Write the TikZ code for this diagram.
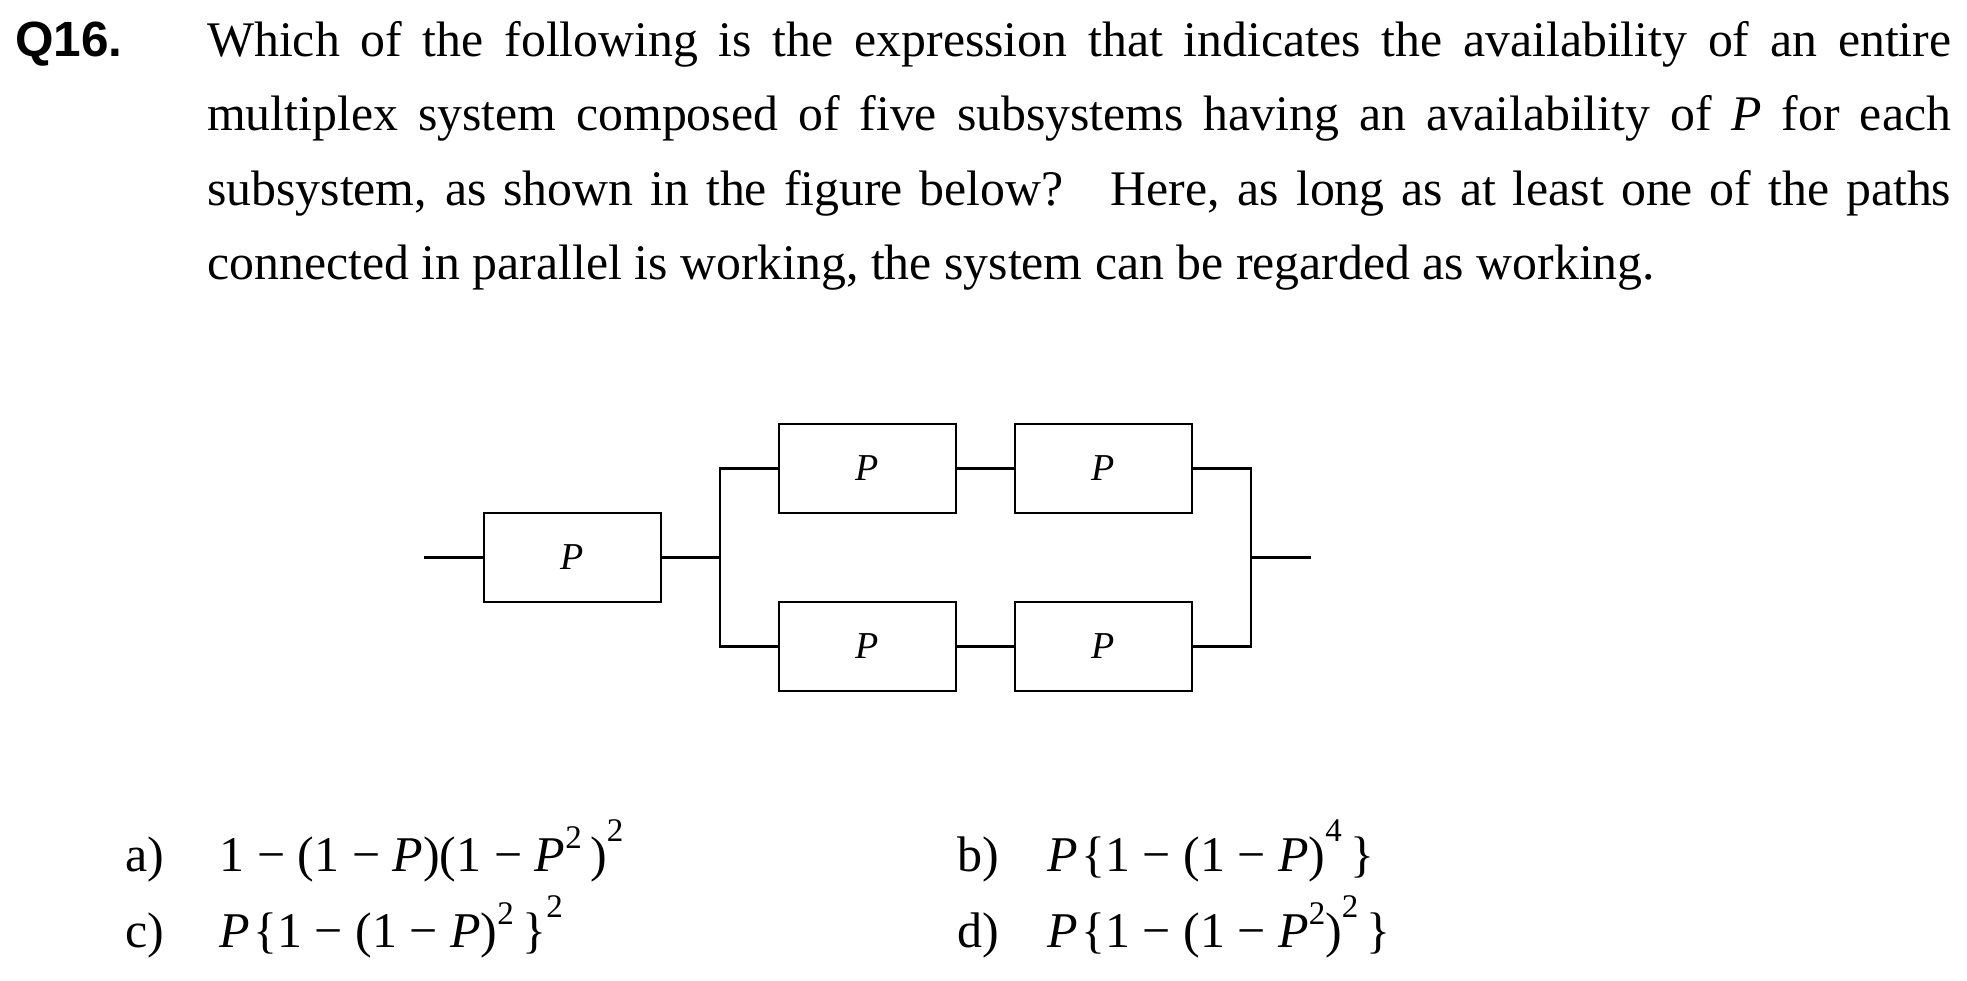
\documentclass[tikz,border=0pt]{standalone}
\usepackage{fontspec}
\setmainfont{Liberation Serif}
\newfontfamily\qfont{Liberation Sans}
\newcommand\suplo[1]{\raisebox{0.46em}{\fontsize{33}{33}\selectfont #1}}
\newcommand\suphi[1]{\raisebox{0.6em}{\fontsize{33}{33}\selectfont #1}}
\begin{document}
\begin{tikzpicture}[x=1pt,y=-1pt,
  box/.style={draw, line width=2.6pt, minimum width=177pt, minimum height=89pt, inner sep=0pt, font=\fontsize{38}{38}\selectfont\itshape},
  wire/.style={line width=2.6pt, line join=miter},
  opt/.style={anchor=base west, inner sep=0pt, font=\fontsize{50}{50}\selectfont}]
\useasboundingbox (0,0) rectangle (1967,980);
\node[anchor=base west, inner sep=0pt, font=\qfont\bfseries\fontsize{49.5}{49.5}\selectfont] (q) at (15,56) {Q16.};
\node[anchor=base west, inner sep=0pt] (txt) at (207,56) {\parbox[t]{1744pt}{\fontsize{49.8}{74.5}\selectfont Which of the following is the expression that indicates the availability of an entire\linebreak multiplex system composed of five subsystems having an availability of \textit{P} for each\linebreak subsystem, as shown in the figure below?\hspace*{0.6em} Here, as long as at least one of the paths\linebreak connected in parallel is working, the system can be regarded as working.}};
% diagram
\node[box] (b1) at (572.5,557.5) {P};
\node[box] (b2) at (867.5,468.5) {P};
\node[box] (b3) at (1103.5,468.5) {P};
\node[box] (b4) at (867.5,646.5) {P};
\node[box] (b5) at (1103.5,646.5) {P};
\coordinate (in) at (424,557.5);
\coordinate (out) at (1311,557.5);
\coordinate (jl) at (720,557.5);
\coordinate (jr) at (1251,557.5);
\draw[wire] (in) -- (b1.west);
\draw[wire] (b1.east) -- (jl);
\draw[wire] (b2.west) -| (jl) |- (b4.west);
\draw[wire] (b2.east) -- (b3.west);
\draw[wire] (b4.east) -- (b5.west);
\draw[wire] (b3.east) -| (jr) |- (b5.east);
\draw[wire] (jr) -- (out);
% options
\node[opt] (la) at (125.5,871) {a)};
\node[opt] (fa) at (219.5,871) {1 − (1 − \textit{P})(1 − \textit{P}\suplo{2}\,)\suphi{2}};
\node[opt] (lb) at (957,871) {b)};
\node[opt] (fb) at (1047.5,871) {\textit{P}\kern3pt\{1 − (1 − \textit{P})\suphi{4}\,\}};
\node[opt] (lc) at (125.5,947.5) {c)};
\node[opt] (fc) at (219.5,947.5) {\textit{P}\kern3pt\{1 − (1 − \textit{P})\suplo{2}\,\}\suphi{2}};
\node[opt] (ld) at (957,947.5) {d)};
\node[opt] (fd) at (1047.5,947.5) {\textit{P}\kern3pt\{1 − (1 − \textit{P}\suplo{2})\suphi{2}\,\}};
\end{tikzpicture}
\end{document}
